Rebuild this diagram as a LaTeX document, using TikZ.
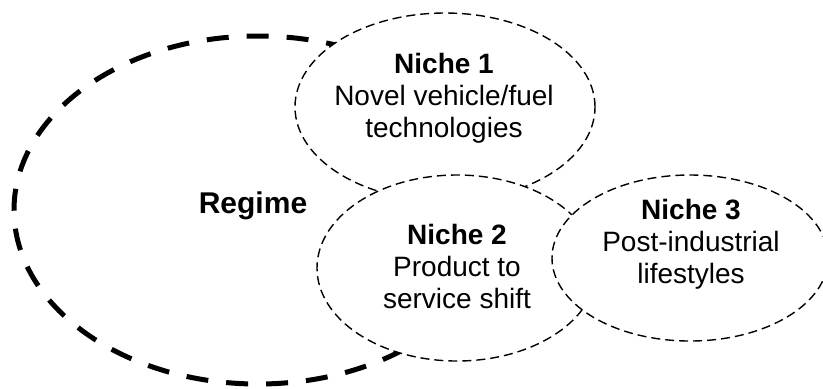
\documentclass[tikz,border=0pt]{standalone}
\usepackage{fontspec}
\setmainfont{Liberation Sans}
\usetikzlibrary{shapes.geometric}

\tikzset{
  regimeshape/.style={ellipse, draw, fill=white, inner sep=0pt, line width=2.5pt,
    dash pattern=on 11pt off 9pt},
  nicheshape/.style={ellipse, draw, fill=white, inner sep=0pt, line width=0.7pt,
    dash pattern=on 4.5pt off 2.5pt},
  nichetext/.style={align=center, inner sep=0pt,
    font=\fontsize{14}{16}\selectfont},
  regimetext/.style={inner sep=0pt, font=\fontsize{15}{18}\selectfont\bfseries},
}

\begin{document}
\begin{tikzpicture}[x=0.5pt, y=-0.5pt]
  \useasboundingbox (0,0) rectangle (823,388);

  % the regime and the three niches, each one laid over the one before
  \node[regimeshape, minimum width=244pt, minimum height=174pt] (regime) at (258,210) {};
  \node[nicheshape, minimum width=150pt, minimum height=94pt] (niche1) at (445,107) {};
  \node[nicheshape, minimum width=140pt, minimum height=93pt] (niche2) at (457,268) {};
  \node[nicheshape, minimum width=138pt, minimum height=83pt] (niche3) at (690,258) {};

  % labels
  \node[regimetext, anchor=base] (regimelabel) at (253,213) {Regime};
  \node[nichetext, anchor=center] (niche1label) at (444,98)
    {\textbf{Niche 1}\\Novel vehicle/fuel\\technologies};
  \node[nichetext, anchor=center] (niche2label) at (457,266)
    {\textbf{Niche 2}\\Product to\\service shift};
  \node[nichetext, anchor=center] (niche3label) at (691,244)
    {\textbf{Niche 3}\\Post-industrial\\lifestyles};
\end{tikzpicture}
\end{document}
